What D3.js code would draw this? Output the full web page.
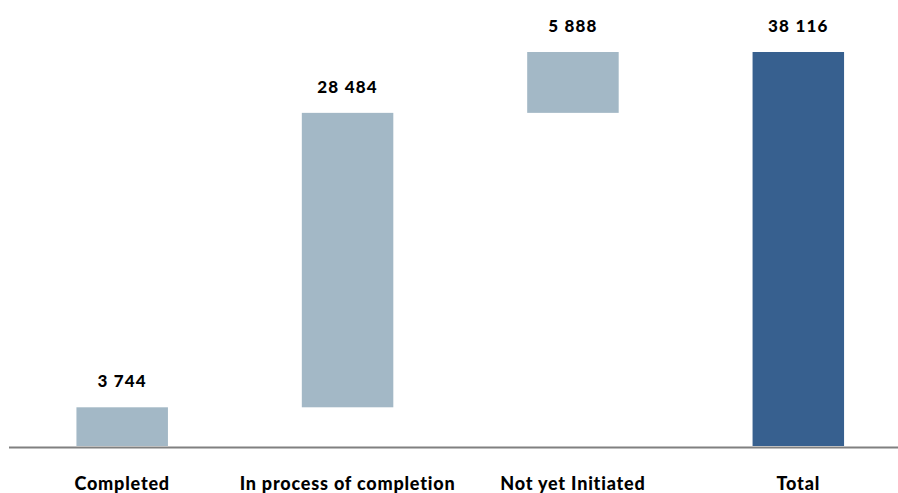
<!DOCTYPE html>
<html>
<head>
<meta charset="utf-8">
<script src="https://cdn.jsdelivr.net/npm/d3@7"></script>
<style>
  html, body { margin: 0; padding: 0; background: #fff; }
  svg { display: block; }
  text { font-family: Lato, "Open Sans", sans-serif; font-weight: 900; fill: #000; }
</style>
</head>
<body>
<svg id="chart" width="898" height="493"></svg>
<script>
const categories = ["Completed", "In process of completion", "Not yet Initiated", "Total"];
const values = [3744, 28484, 5888, 38116];
const isTotal = [false, false, false, true];
const valueLabels = ["3 744", "28 484", "5 888", "38 116"];

const baseY = 446, topY = 52;
const svg = d3.select("#chart");

let running = 0;
const bars = categories.map((c, i) => {
  let lo, hi;
  if (isTotal[i]) { lo = 0; hi = values[i]; }
  else { lo = running; hi = running + values[i]; running = hi; }
  return { cat: c, lo, hi, label: valueLabels[i], total: isTotal[i] };
});

const x = d3.scaleBand().domain(categories).range([9.5, 911]).paddingInner(0.594).paddingOuter(0.297);
const y = d3.scaleLinear().domain([0, d3.max(values)]).range([baseY, topY]);

svg.selectAll("rect.bar").data(bars).enter().append("rect")
  .attr("class", "bar")
  .attr("x", d => x(d.cat))
  .attr("width", x.bandwidth())
  .attr("y", d => y(d.hi))
  .attr("height", d => y(d.lo) - y(d.hi))
  .attr("fill", d => d.total ? "#37608F" : "#A3B8C6");

const axis = d3.axisBottom(x).tickSize(0).tickPadding(0).tickFormat("");
const ag = svg.append("g").attr("transform", `translate(0,${baseY + 1.5})`).call(axis);
ag.select(".domain").attr("d", `M9,0H898`).attr("stroke", "#808080").attr("stroke-width", 2);

svg.selectAll("text.val").data(bars).enter().append("text")
  .attr("class", "val")
  .attr("x", d => x(d.cat) + x.bandwidth() / 2)
  .attr("y", d => y(d.hi) - 20)
  .attr("text-anchor", "middle")
  .attr("font-size", 17)
  .attr("letter-spacing", 1.2)
  .text(d => d.label);

svg.selectAll("text.cat").data(bars).enter().append("text")
  .attr("class", "cat")
  .attr("x", d => x(d.cat) + x.bandwidth() / 2)
  .attr("y", 490)
  .attr("text-anchor", "middle")
  .attr("font-size", 18)
  .attr("letter-spacing", 0.8)
  .text(d => d.cat);
</script>
</body>
</html>
